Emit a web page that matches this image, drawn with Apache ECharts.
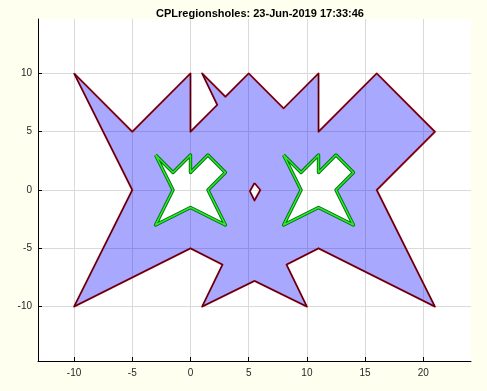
<!DOCTYPE html>
<html>
<head>
<meta charset="utf-8">
<script src="https://cdn.jsdelivr.net/npm/echarts@6/dist/echarts.min.js"></script>
<style>
html,body{margin:0;padding:0;background:#fffff0;}
#c{width:487px;height:391px;}
</style>
</head>
<body>
<div id="c"></div>
<script>
const titleText = 'CPLregionsholes: 23-Jun-2019 17:33:46';
const xTicks = [-10, -5, 0, 5, 10, 15, 20];
const yTicks = [-10, -5, 0, 5, 10];
const xRange = [-13.1, 24.1];
const yRange = [-14.67, 14.67];

const outerRegion = [
  [-10, 10], [-5, 5], [0, 10], [0, 5], [2.3, 7.3], [1, 10], [3, 8], [5, 10],
  [8, 7], [11, 10], [11, 5], [16, 10], [21, 5], [16, 0], [21, -10], [11, -5],
  [8.25, -6.4], [10, -10], [5.5, -7.8], [1, -10], [2.75, -6.4], [0, -5],
  [-10, -10], [-5, 0]
];
const holeDiamond = [[5.5, 0.6], [6, 0], [5.5, -0.9], [5.1, -0.1]];
const holeStarLeft = [
  [-3, 3], [-1.5, 1.5], [0, 3], [0, 1.5], [1.5, 3], [3, 1.5], [1.5, 0],
  [3, -3], [0, -1.5], [-3, -3], [-1.5, 0]
];
const holeStarRight = [
  [8, 3], [9.5, 1.5], [11, 3], [11, 1.5], [12.5, 3], [14, 1.5], [12.5, 0],
  [14, -3], [11, -1.5], [8, -3], [9.5, 0]
];

function signedArea(r) {
  let a = 0;
  for (let i = 0; i < r.length; i++) {
    const p = r[i], q = r[(i + 1) % r.length];
    a += p[0] * q[1] - q[0] * p[1];
  }
  return a / 2;
}
function orient(r, positive) {
  const s = signedArea(r) > 0;
  return s === positive ? r.slice() : r.slice().reverse();
}
function closed(r) { return r.concat([r[0]]); }

const outerOriented = orient(outerRegion, true);
const holesOriented = [holeDiamond, holeStarLeft, holeStarRight].map(h => orient(h, false));

const chart = echarts.init(document.getElementById('c'), null, {renderer: 'canvas'});

const fillSeries = {
  type: 'custom',
  data: [[0, 0]],
  clip: true,
  silent: true,
  z: 1,
  renderItem: function (params, api) {
    let d = '';
    [outerOriented].concat(holesOriented).forEach(function (ring) {
      ring.forEach(function (p, i) {
        const c = api.coord(p);
        d += (i === 0 ? 'M' : 'L') + c[0].toFixed(2) + ' ' + c[1].toFixed(2) + ' ';
      });
      d += 'Z ';
    });
    return {
      type: 'path',
      shape: {pathData: d},
      style: {fill: 'rgba(0,0,255,0.34)', stroke: 'none'}
    };
  }
};

function lineSeries(ring, color, width, z) {
  return {
    type: 'line',
    data: closed(ring),
    showSymbol: false,
    symbol: 'none',
    silent: true,
    animation: false,
    z: z,
    lineStyle: {color: color, width: width, join: 'round'}
  };
}

const series = [fillSeries];
series.push(lineSeries(outerRegion, '#b01020', 1.9, 3));
series.push(lineSeries(outerRegion, '#3a0010', 1.0, 4));
series.push(lineSeries(holeDiamond, '#b01020', 1.9, 3));
series.push(lineSeries(holeDiamond, '#3a0010', 1.0, 4));
[holeStarLeft, holeStarRight].forEach(function (h) {
  series.push(lineSeries(h, '#0a6a1a', 3.4, 3));
  series.push(lineSeries(h, '#22ee22', 1.6, 4));
});

const axisFont = {fontFamily: 'Liberation Sans, Arial, sans-serif', fontSize: 10, color: '#262626'};

chart.setOption({
  backgroundColor: '#fffff0',
  animation: false,
  title: {
    text: titleText,
    left: 255,
    top: 3,
    textAlign: 'center',
    textStyle: {fontFamily: 'Liberation Sans, Arial, sans-serif', fontSize: 11, fontWeight: 'bold', color: '#000'}
  },
  grid: {
    left: 38, top: 19, right: 16, bottom: 30,
    show: true, backgroundColor: '#ffffff', borderWidth: 0,
    containLabel: false, outerBoundsMode: 'none'
  },
  xAxis: {
    type: 'value',
    min: xRange[0], max: xRange[1],
    axisLine: {show: true, onZero: false, lineStyle: {color: '#000', width: 1}},
    axisTick: {show: true, inside: true, length: 4, customValues: xTicks, lineStyle: {color: '#000'}},
    axisLabel: Object.assign({margin: 7, customValues: xTicks}, axisFont),
    splitLine: {show: true, lineStyle: {color: '#dadada', width: 1}}
  },
  yAxis: {
    type: 'value',
    min: yRange[0], max: yRange[1],
    axisLine: {show: true, onZero: false, lineStyle: {color: '#000', width: 1}},
    axisTick: {show: true, inside: true, length: 4, customValues: yTicks, lineStyle: {color: '#000'}},
    axisLabel: Object.assign({margin: 6, customValues: yTicks}, axisFont),
    splitLine: {show: true, lineStyle: {color: '#dadada', width: 1}}
  },
  series: series
});
</script>
</body>
</html>
